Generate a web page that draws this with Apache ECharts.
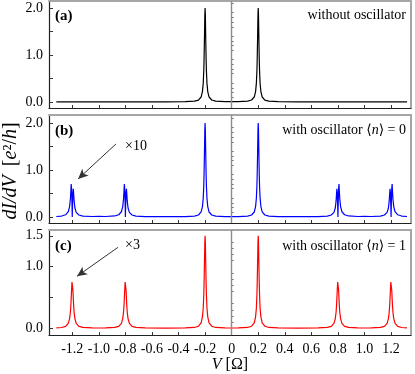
<!DOCTYPE html>
<html>
<head>
<meta charset="utf-8">
<script src="https://cdn.jsdelivr.net/npm/echarts@6/dist/echarts.min.js"></script>
<style>html,body{margin:0;padding:0;background:#fff;}#c{width:415px;height:374px;}</style>
</head>
<body>
<div id="c"></div>
<script>
// ---- data ----
const xs = [-1.32, -1.28, -1.25, -1.23, -1.22, -1.214, -1.21, -1.208, -1.205, -1.202, -1.2, -1.198, -1.195, -1.192, -1.19, -1.186, -1.18, -1.17, -1.15, -1.12, -1.05,
 -1.0,
 -0.95, -0.88, -0.85, -0.83, -0.82, -0.814, -0.81, -0.808, -0.805, -0.802, -0.8, -0.798, -0.795, -0.792, -0.79, -0.786, -0.78, -0.77, -0.75, -0.72, -0.65,
 -0.5,
 -0.35, -0.28, -0.25, -0.23, -0.22, -0.214, -0.21, -0.208, -0.205, -0.202, -0.2, -0.198, -0.195, -0.192, -0.19, -0.186, -0.18, -0.17, -0.15, -0.12, -0.05,
 0,
 0.05, 0.12, 0.15, 0.17, 0.18, 0.186, 0.19, 0.192, 0.195, 0.198, 0.2, 0.202, 0.205, 0.208, 0.21, 0.214, 0.22, 0.23, 0.25, 0.28, 0.35,
 0.5,
 0.65, 0.72, 0.75, 0.77, 0.78, 0.786, 0.79, 0.792, 0.795, 0.798, 0.8, 0.802, 0.805, 0.808, 0.81, 0.814, 0.82, 0.83, 0.85, 0.88, 0.95,
 1.0,
 1.05, 1.12, 1.15, 1.17, 1.18, 1.186, 1.19, 1.192, 1.195, 1.198, 1.2, 1.202, 1.205, 1.208, 1.21, 1.214, 1.22, 1.23, 1.25, 1.28, 1.32];

// (a) without oscillator
const yA = [0.001, 0.001, 0.001, 0.001, 0.001, 0.001, 0.001, 0.001, 0.001, 0.001, 0.001, 0.001, 0.001, 0.001, 0.001, 0.001, 0.001, 0.001, 0.001, 0.001, 0.001,
 0.001,
 0.001, 0.001, 0.001, 0.001, 0.001, 0.001, 0.001, 0.001, 0.001, 0.001, 0.001, 0.001, 0.001, 0.001, 0.001, 0.001, 0.001, 0.001, 0.001, 0.001, 0.001,
 0.002,
 0.005, 0.016, 0.039, 0.104, 0.219, 0.40, 0.66, 0.87, 1.32, 1.85, 2.0, 1.85, 1.32, 0.87, 0.66, 0.40, 0.219, 0.104, 0.04, 0.017, 0.006,
 0.005,
 0.006, 0.017, 0.04, 0.104, 0.219, 0.40, 0.66, 0.87, 1.32, 1.85, 2.0, 1.85, 1.32, 0.87, 0.66, 0.40, 0.219, 0.104, 0.039, 0.016, 0.005,
 0.002,
 0.001, 0.001, 0.001, 0.001, 0.001, 0.001, 0.001, 0.001, 0.001, 0.001, 0.001, 0.001, 0.001, 0.001, 0.001, 0.001, 0.001, 0.001, 0.001, 0.001, 0.001,
 0.001,
 0.001, 0.001, 0.001, 0.001, 0.001, 0.001, 0.001, 0.001, 0.001, 0.001, 0.001, 0.001, 0.001, 0.001, 0.001, 0.001, 0.001, 0.001, 0.001, 0.001, 0.001];

// (b) with oscillator <n>=0 (side peaks shown x10)
const yB = [0.008, 0.018, 0.045, 0.11, 0.22, 0.38, 0.58, 0.70, 0.60, 0.28, 0.0, 0.24, 0.52, 0.60, 0.52, 0.34, 0.19, 0.095, 0.04, 0.018, 0.008,
 0.01,
 0.008, 0.02, 0.046, 0.11, 0.22, 0.38, 0.58, 0.70, 0.60, 0.28, 0.0, 0.24, 0.52, 0.60, 0.52, 0.34, 0.19, 0.095, 0.041, 0.018, 0.006,
 0.004,
 0.006, 0.017, 0.04, 0.105, 0.22, 0.40, 0.66, 0.87, 1.32, 1.85, 2.0, 1.85, 1.32, 0.87, 0.66, 0.40, 0.219, 0.104, 0.04, 0.017, 0.006,
 0.005,
 0.006, 0.017, 0.04, 0.104, 0.219, 0.40, 0.66, 0.87, 1.32, 1.85, 2.0, 1.85, 1.32, 0.87, 0.66, 0.40, 0.22, 0.105, 0.04, 0.017, 0.006,
 0.004,
 0.006, 0.018, 0.041, 0.095, 0.19, 0.34, 0.52, 0.60, 0.52, 0.24, 0.0, 0.28, 0.60, 0.70, 0.58, 0.38, 0.22, 0.11, 0.046, 0.02, 0.008,
 0.01,
 0.008, 0.018, 0.04, 0.095, 0.19, 0.34, 0.52, 0.60, 0.52, 0.24, 0.0, 0.28, 0.60, 0.70, 0.58, 0.38, 0.22, 0.11, 0.045, 0.018, 0.008];

// (c) with oscillator <n>=1 (side peaks shown x3)
const yC = [0.006, 0.013, 0.031, 0.08, 0.158, 0.26, 0.39, 0.48, 0.62, 0.75, 0.78, 0.75, 0.62, 0.48, 0.39, 0.26, 0.158, 0.08, 0.032, 0.014, 0.006,
 0.005,
 0.006, 0.014, 0.032, 0.08, 0.158, 0.26, 0.39, 0.48, 0.62, 0.75, 0.78, 0.75, 0.62, 0.48, 0.39, 0.26, 0.158, 0.08, 0.032, 0.014, 0.006,
 0.003,
 0.006, 0.014, 0.034, 0.09, 0.186, 0.33, 0.54, 0.70, 1.04, 1.40, 1.5, 1.40, 1.04, 0.70, 0.54, 0.33, 0.186, 0.09, 0.034, 0.014, 0.006,
 0.005,
 0.006, 0.014, 0.034, 0.09, 0.186, 0.33, 0.54, 0.70, 1.04, 1.40, 1.5, 1.40, 1.04, 0.70, 0.54, 0.33, 0.186, 0.09, 0.034, 0.014, 0.006,
 0.003,
 0.006, 0.014, 0.032, 0.08, 0.158, 0.26, 0.39, 0.48, 0.62, 0.75, 0.78, 0.75, 0.62, 0.48, 0.39, 0.26, 0.158, 0.08, 0.032, 0.014, 0.006,
 0.005,
 0.006, 0.014, 0.032, 0.08, 0.158, 0.26, 0.39, 0.48, 0.62, 0.75, 0.78, 0.75, 0.62, 0.48, 0.39, 0.26, 0.158, 0.08, 0.031, 0.013, 0.006];

const xTicks = [-1.2, -1.0, -0.8, -0.6, -0.4, -0.2, 0, 0.2, 0.4, 0.6, 0.8, 1.0, 1.2];
const yLabelsA = [0, 1, 2];
const yLabelsB = [0, 1, 2];
const yLabelsC = [0, 1, 1.5];
const yMajorA = [0, 0.5, 1, 1.5, 2];
const yMajorB = [0, 0.5, 1, 1.5, 2];
const yMajorC = [0, 0.5, 1, 1.5];
const yMinorA = [0.1, 0.2, 0.3, 0.4, 0.6, 0.7, 0.8, 0.9, 1.1, 1.2, 1.3, 1.4, 1.6, 1.7, 1.8, 1.9, 2.1];
const yMinorB = [0.1, 0.2, 0.3, 0.4, 0.6, 0.7, 0.8, 0.9, 1.1, 1.2, 1.3, 1.4, 1.6, 1.7, 1.8, 1.9, 2.1];
const yMinorC = [0.1, 0.2, 0.3, 0.4, 0.6, 0.7, 0.8, 0.9, 1.1, 1.2, 1.3, 1.4];
const panelTags = ['(a)', '(b)', '(c)'];
const panelNotes = ['without oscillator', 'with oscillator \u27e8{i|n}\u27e9 = 0', 'with oscillator \u27e8{i|n}\u27e9 = 1'];
const scaleNotes = ['', '\u00d710', '\u00d73'];
const lineColors = ['#000000', '#0000ff', '#ff0000'];

// ---- layout ----
const SERIF = "'Liberation Serif','DejaVu Serif',serif";
const X_MIN = -1.375, X_MAX = 1.35;
const grids = [
  {left: 49, right: 4, top: 1, height: 107},
  {left: 49, right: 4, top: 115, height: 108},
  {left: 49, right: 4, top: 230, height: 109}
];
const yRanges = [[-0.13, 2.15], [-0.13, 2.17], [-0.11, 1.594]];
const yLabelSets = [yLabelsA, yLabelsB, yLabelsC];
const yMajorSets = [yMajorA, yMajorB, yMajorC];
const yMinorSets = [yMinorA, yMinorB, yMinorC];
const ySets = [yA, yB, yC];

const xAxes = [], yAxes = [], series = [];
for (let i = 0; i < 3; i++) {
  xAxes.push({
    type: 'value', gridIndex: i, min: X_MIN, max: X_MAX, position: 'bottom',
    splitLine: {show: false},
    axisLine: {onZero: false, lineStyle: {color: '#222', width: 1.2}},
    axisTick: {show: true, inside: true, length: 3, customValues: xTicks, lineStyle: {color: '#333', width: 1}},
    axisLabel: {show: i === 2, customValues: xTicks, margin: 7, fontFamily: SERIF, fontSize: 14, color: '#000',
      formatter: v => (Math.abs(v) < 1e-9 ? '0' : v.toFixed(1))},
    name: i === 2 ? '{i|V} [\u03a9]' : '',
    nameLocation: 'middle', nameGap: 20,
    nameTextStyle: {fontFamily: SERIF, fontSize: 16, color: '#000',
      rich: {i: {fontStyle: 'italic', fontFamily: SERIF, fontSize: 16, color: '#000'}}}
  });
  xAxes.push({
    type: 'value', gridIndex: i, min: X_MIN, max: X_MAX, position: 'top',
    splitLine: {show: false}, axisTick: {show: false}, axisLabel: {show: false},
    axisLine: {onZero: false, lineStyle: {color: '#a6a6a6', width: 2}}
  });
  const [ymin, ymax] = yRanges[i];
  yAxes.push({
    type: 'value', gridIndex: i, min: ymin, max: ymax, position: 'left',
    splitLine: {show: false},
    axisLine: {onZero: false, lineStyle: {color: '#222', width: 1.2}},
    axisTick: {show: true, inside: true, length: 4, customValues: yMajorSets[i], lineStyle: {color: '#333', width: 1}},
    axisLabel: {customValues: yLabelSets[i], margin: 6, fontFamily: SERIF, fontSize: 14, color: '#000',
      formatter: v => v.toFixed(1)}
  });
  yAxes.push({
    type: 'value', gridIndex: i, min: ymin, max: ymax, position: 'left',
    splitLine: {show: false}, axisLine: {show: false}, axisLabel: {show: false},
    axisTick: {show: true, inside: true, length: 2, customValues: yMinorSets[i], lineStyle: {color: '#555', width: 0.8}}
  });
  yAxes.push({
    type: 'value', gridIndex: i, min: ymin, max: ymax, position: 'right',
    splitLine: {show: false}, axisTick: {show: false}, axisLabel: {show: false},
    axisLine: {onZero: false, lineStyle: {color: '#a6a6a6', width: 2}}
  });

  const mlData = [{xAxis: 0, lineStyle: {color: '#8c8c8c', width: 1.4, type: 'solid'}}];
  if (i === 1) {
    mlData.push([
      {coord: [-0.871, 1.553], symbol: 'none', lineStyle: {color: '#333', width: 1, type: 'solid'}},
      {coord: [-1.156, 0.809], symbol: 'arrow', symbolSize: [7, 10]}
    ]);
  }
  if (i === 2) {
    mlData.push([
      {coord: [-0.856, 1.3125], symbol: 'none', lineStyle: {color: '#333', width: 1, type: 'solid'}},
      {coord: [-1.164, 0.844], symbol: 'arrow', symbolSize: [7, 10]}
    ]);
  }
  series.push({
    type: 'line', xAxisIndex: 2 * i, yAxisIndex: 3 * i,
    data: xs.map((x, k) => [x, ySets[i][k]]),
    showSymbol: false, symbol: 'none', smooth: false,
    lineStyle: {color: lineColors[i], width: 1.2},
    animation: false, silent: true,
    markLine: {silent: true, animation: false, symbol: ['none', 'none'], label: {show: false},
      emphasis: {disabled: true}, data: mlData}
  });
}

const graphics = [];
const tagY = [16, 131, 246];
const noteY = [15, 130, 246];
for (let i = 0; i < 3; i++) {
  graphics.push({type: 'text', x: 55, y: tagY[i],
    style: {text: panelTags[i], font: 'bold 15px ' + SERIF, fill: '#000', align: 'left', verticalAlign: 'middle'}});
  graphics.push({type: 'text', x: 406, y: noteY[i],
    style: {text: panelNotes[i], font: '14px ' + SERIF, fill: '#000', align: 'right', verticalAlign: 'middle',
      rich: {i: {fontStyle: 'italic', fontFamily: SERIF, fontSize: 14, fill: '#000'}}}});
  if (scaleNotes[i]) {
    graphics.push({type: 'text', x: 125, y: i === 1 ? 146 : 245,
      style: {text: scaleNotes[i], font: '14px ' + SERIF, fill: '#000', align: 'left', verticalAlign: 'middle'}});
  }
}
graphics.push({type: 'text', x: 11, y: 171, rotation: Math.PI / 2,
  style: {text: '{i|dI/dV}\u2009 [{i|e}\u00b2/{i|h}]', font: '20px ' + SERIF, fill: '#000', align: 'center', verticalAlign: 'middle',
    rich: {i: {fontStyle: 'italic', fontFamily: SERIF, fontSize: 20, fill: '#000'}}}});

const chart = echarts.init(document.getElementById('c'), null, {renderer: 'canvas'});
chart.setOption({
  animation: false,
  backgroundColor: '#ffffff',
  grid: grids,
  xAxis: xAxes,
  yAxis: yAxes,
  series: series,
  graphic: graphics
});
</script>
</body>
</html>
